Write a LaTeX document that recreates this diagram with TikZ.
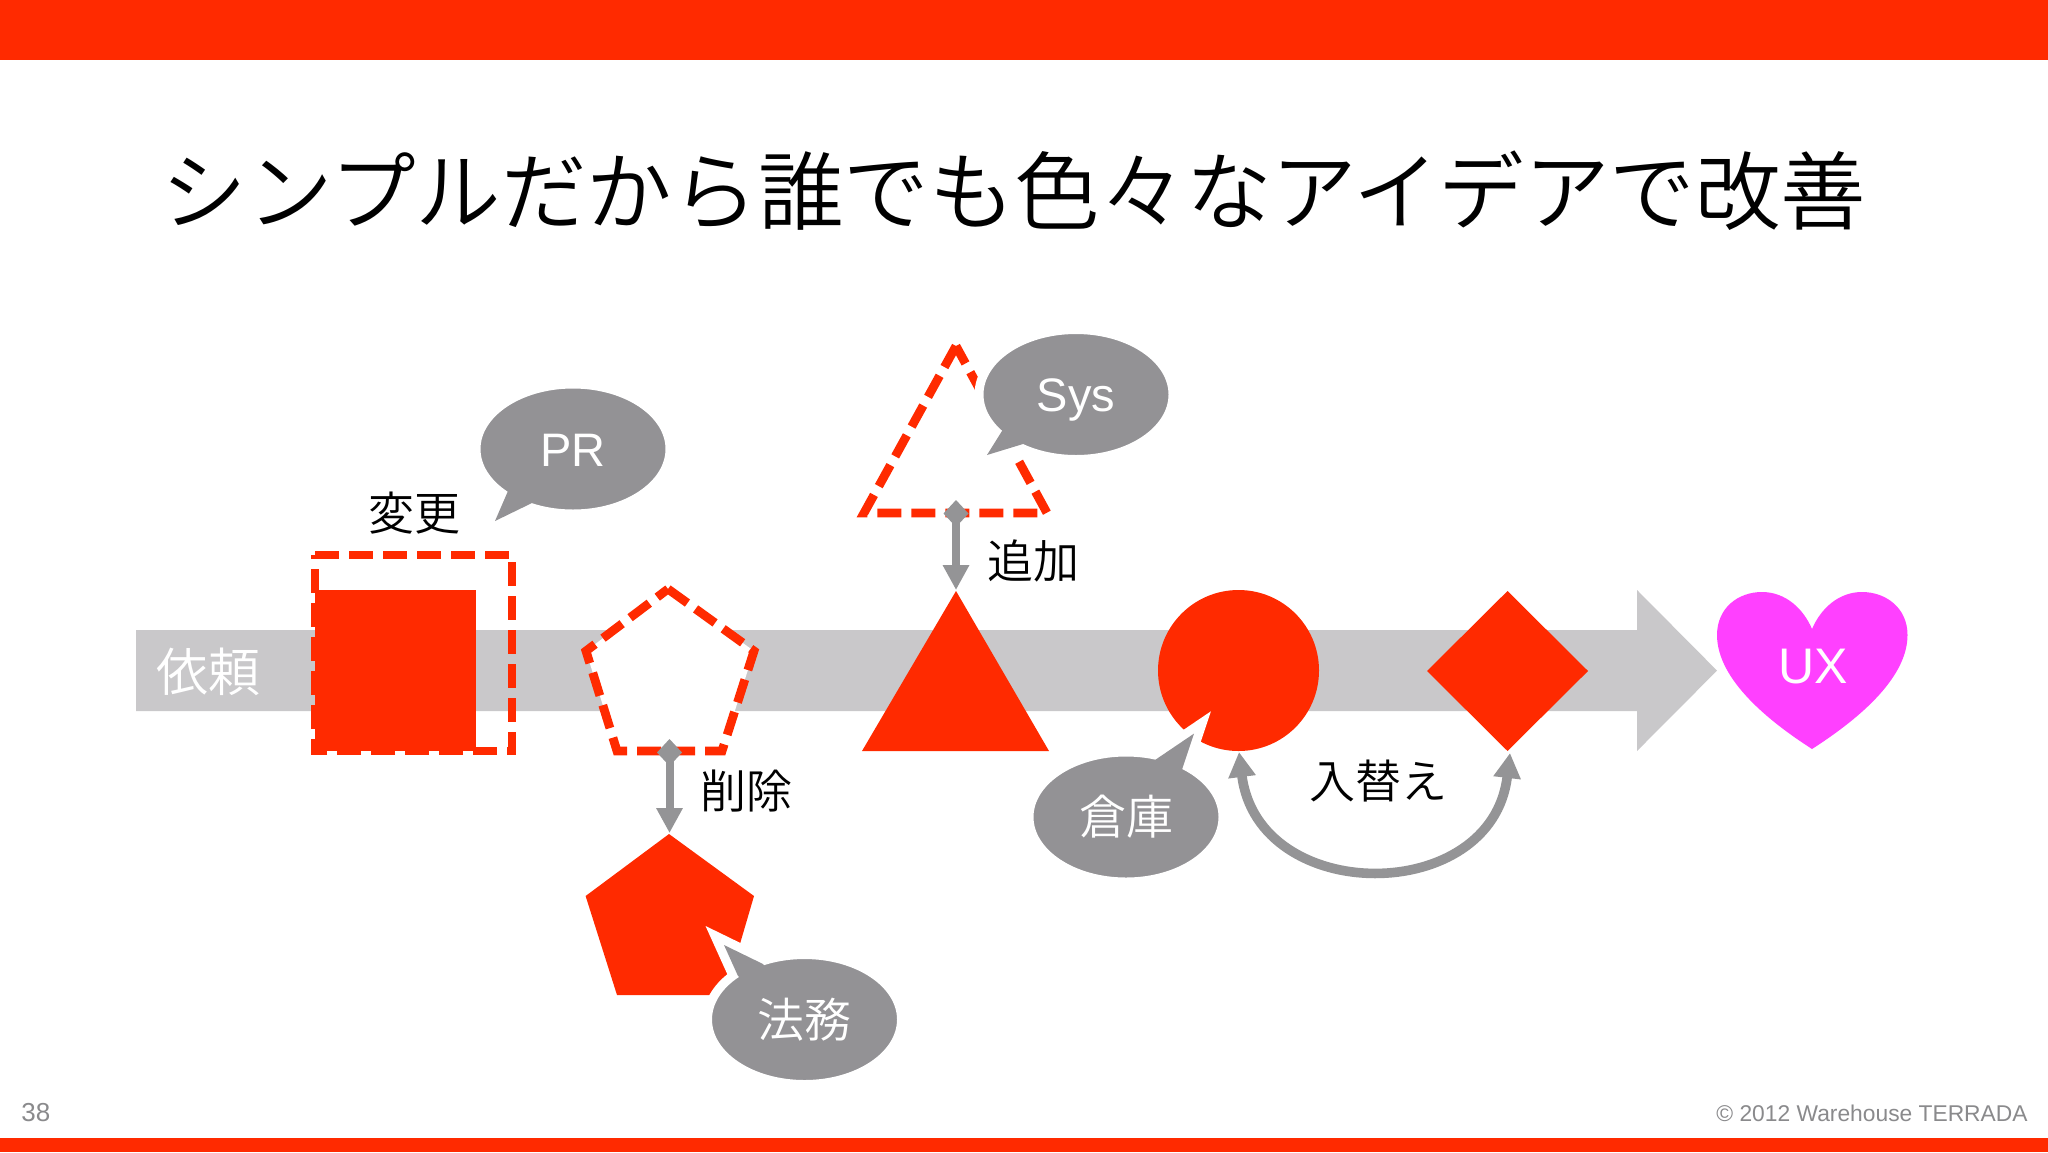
\documentclass[tikz,border=0pt]{standalone}
\usepackage{fontspec}
\usetikzlibrary{arrows.meta,shapes.geometric}
\setmainfont{Liberation Sans}
\IfFontExistsTF{Noto Sans CJK JP DemiLight}{\newfontfamily\jp{Noto Sans CJK JP DemiLight}}{\newfontfamily\jp{Noto Sans CJK JP}}
\definecolor{slidered}{HTML}{FF2A00}
\definecolor{bubblegray}{HTML}{939295}
\definecolor{flowgray}{HTML}{C9C8CA}
\definecolor{arrowgray}{HTML}{949496}
\definecolor{heartpink}{HTML}{FF40FF}
\definecolor{footgray}{HTML}{8A8A8C}
\newcommand\fs[1]{\fontsize{#1}{#1}\selectfont}
\newcommand\capbox[1]{\raisebox{0pt}[0.74em][0pt]{\normalfont #1}}
% name, centre, tip, base 1, base 2, text
\newcommand\speech[6]{%
  \draw[white,line width=9pt,miter limit=12,line join=miter] #4 -- #3 -- #5;
  \node[bubbleshape] (#1) at #2 {};
  \fill[bubblegray] #4 -- #3 -- #5 -- #2 -- cycle;
  \node[bubbletext] at (#1.center) {#6};
}
\tikzset{
  x=0.5pt,y=-0.5pt,
  solidshape/.style={fill=slidered,draw=none},
  dashedshape/.style={draw=slidered,line width=4.4pt,dash pattern=on 12pt off 5pt,line join=miter},
  bubbleshape/.style={ellipse,fill=bubblegray,draw=white,line width=4.5pt,
     minimum width=97pt,minimum height=65pt,inner sep=0pt,outer sep=0pt},
  bubbletext/.style={text=white,font=\fs{23.5}\jp,inner sep=0pt},
  blacklabel/.style={text=black,font=\fs{23}\jp,inner sep=0pt},
  changearrow/.style={draw=arrowgray,line width=4pt,
     {Diamond[length=13.5pt,width=12.5pt,fill=arrowgray]}-{Triangle[length=12.5pt,width=12.5pt,fill=arrowgray]}},
  swaparrow/.style={draw=arrowgray,line width=4.8pt,
     {Triangle[length=12.5pt,width=13pt,fill=arrowgray]}-{Triangle[length=12.5pt,width=13pt,fill=arrowgray]}},
}
\begin{document}
\begin{tikzpicture}
\useasboundingbox (0,0) rectangle (2048,1152);
\fill[white] (0,0) rectangle (2048,1152);
\fill[slidered] (0,0) rectangle (2048,60);
\fill[slidered] (0,1138) rectangle (2048,1152);
\node[text=black,font=\fs{42.8}\jp,inner sep=0pt] (title) at (1014,191) {シンプルだから誰でも色々なアイデアで改善};

% flow arrow
\fill[flowgray] (136,630) -- (1637,630) -- (1637,590) -- (1717,670.6) -- (1637,751) -- (1637,711) -- (136,711) -- cycle;
\node[text=white,font=\fs{26}\jp,inner sep=0pt] (request) at (208,672) {依頼};

% square
\fill[solidshape] (315,590) rectangle (476,751);
\draw[dashedshape] (315,555) -- (512,555) -- (512,751) -- (315,751) -- cycle;
\node[blacklabel] (change) at (414,513) {変更};

% pentagon
\draw[dashedshape,fill=white] (668,589) -- (754,651) -- (722,751) -- (617,751) -- (586,651) -- cycle;
\fill[solidshape] (669,834) -- (754,896) -- (725,995) -- (617,995) -- (585.6,896) -- cycle;
\coordinate (delfrom) at (669.5,739);
\coordinate (delto) at (669.5,833);
\draw[changearrow] (delfrom) -- (delto);
\node[blacklabel] (delete) at (746,791) {削除};

% triangle
\draw[dashedshape] (956,346) -- (864,513) -- (1047,513) -- cycle;
\fill[solidshape] (956,591) -- (1049,751) -- (862,751) -- cycle;
\coordinate (addfrom) at (956,500);
\coordinate (addto) at (956,590);
\draw[changearrow] (addfrom) -- (addto);
\node[blacklabel] (add) at (1033.5,561) {追加};

% circle and diamond
\node[circle,fill=slidered,minimum size=80.5pt,inner sep=0pt,outer sep=0pt] (round) at (1238.5,670.5) {};
\fill[solidshape] (1507.5,591) -- (1588,671) -- (1507.5,751) -- (1427,671) -- cycle;
\coordinate (swapa) at (1239,752);
\coordinate (swapb) at (1510,753);
\draw[swaparrow] (swapa) .. controls (1258,906) and (1492,906) .. (swapb);
\node[blacklabel] (swap) at (1378,781) {入替え};

% heart
\fill[heartpink] (1812,749) .. controls (1770,722) and (1717,680) .. (1717,635)
  .. controls (1717,608) and (1738,592) .. (1762,592)
  .. controls (1785,592) and (1803,608) .. (1812,629)
  .. controls (1821,608) and (1839,592) .. (1862,592)
  .. controls (1886,592) and (1907.5,608) .. (1907.5,635)
  .. controls (1907.5,680) and (1854,722) .. (1812,749) -- cycle;
\node[text=white,font=\fs{25},inner sep=0pt] (ux) at (1813,667) {UX};

% speech bubbles
\speech{pr}{(573,449)}{(495,521)}{(508,491)}{(533,502.5)}{\capbox{PR}}
\speech{sys}{(1076,394.5)}{(987,455)}{(1002.6,430)}{(1023,444)}{\capbox{Sys}}
\speech{store}{(1126,817)}{(1194,733.6)}{(1155,760)}{(1182,769.5)}{倉庫}
\speech{legal}{(804.5,1019.5)}{(724,945)}{(738,976)}{(763,964)}{法務}

% footer
\node[text=footgray,font=\fs{13},anchor=west,inner sep=0pt] (page) at (21,1113) {38};
\node[text=footgray,font=\fs{11.4},anchor=east,inner sep=0pt] (copy) at (2028,1113) {© 2012 Warehouse TERRADA};
\end{tikzpicture}
\end{document}
